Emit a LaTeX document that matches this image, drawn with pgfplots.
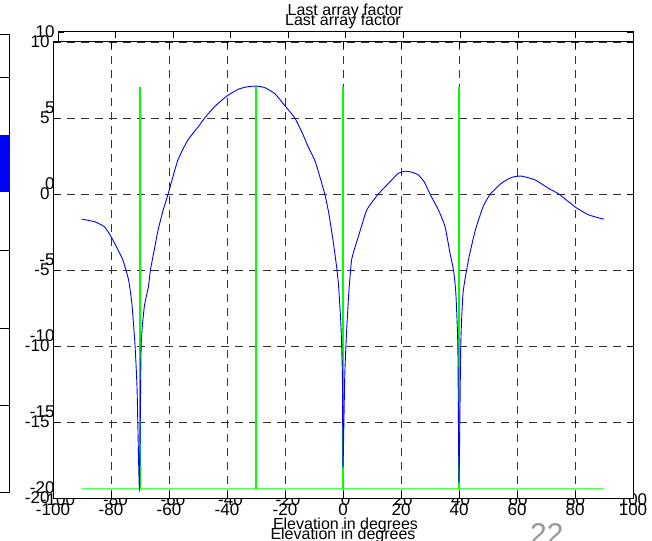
\documentclass[border=0pt]{standalone}
\usepackage{fontspec}
\setmainfont{Liberation Sans}
\usepackage{pgfplots}
\pgfplotsset{compat=1.18}
\definecolor{mblue}{RGB}{0,0,255}
\definecolor{mgreen}{RGB}{0,255,0}
\pgfplotsset{
  mystyle/.style={
    scale only axis,
    xmin=-100, xmax=100, ymin=-20, ymax=10,
    xtick={-100,-80,...,100}, ytick={-20,-15,...,10},
    tick align=inside, major tick length=6bp,
    /pgf/number format/assume math mode=true,
    tick label style={font=\fontsize{17bp}{20bp}\selectfont},
    xticklabel style={yshift=-2bp},
    label style={font=\fontsize{16bp}{19bp}\selectfont},
    title style={font=\fontsize{16bp}{19bp}\selectfont},
    axis line style={line width=1bp},
    every tick/.style={black, line width=0.8bp},
    title={Last array factor},
    xlabel={Elevation in degrees},
    title style={at={(axis description cs:0.5,1)}, anchor=center, yshift=15bp},
    xlabel style={at={(axis description cs:0.5,0)}, anchor=center, yshift=-37bp},
  }
}
\begin{document}
\begin{tikzpicture}
\path[use as bounding box] (-53bp,-43bp) rectangle (599bp,498bp);

% partial neighbouring panel at the left edge
\begin{axis}[at={(-113bp,6bp)}, anchor=south west, scale only axis,
  width=70bp, height=457bp, xmin=0, xmax=70, ymin=0, ymax=457,
  xtick=\empty, ytick=\empty, axis line style={line width=1bp}]
\addplot[fill=mblue, draw=none] coordinates {(0,357) (70,357) (70,300) (0,300)} -- cycle;
\addplot[black, line width=0.8bp] coordinates {(0,415) (70,415)};
\addplot[black, line width=0.8bp] coordinates {(0,242) (70,242)};
\addplot[black, line width=0.8bp] coordinates {(0,164) (70,164)};
\addplot[black, line width=0.8bp] coordinates {(0,87) (70,87)};
\end{axis}

% ghost copy of the axis (offset)
\begin{axis}[mystyle, at={(5bp,10bp)}, anchor=south west, width=575bp, height=456bp]
\addplot[draw=none] coordinates {(0,0)};
\end{axis}

% main axis
\begin{axis}[mystyle, at={(0bp,0bp)}, anchor=south west, width=580bp, height=456bp,
  axis background/.style={fill=white},
  grid=major, grid style={black!80, line width=0.8bp, dash pattern=on 8bp off 6bp}]
\addplot[mgreen, line width=1.1bp] coordinates {
(-90,-19.4) (-70.15,-19.4) (-70.1,7) (-69.9,7) (-69.85,-19.4)
(-30.15,-19.4) (-30.1,7) (-29.9,7) (-29.85,-19.4)
(-0.15,-19.4) (-0.1,7) (0.1,7) (0.15,-19.4)
(39.85,-19.4) (39.9,7) (40.1,7) (40.15,-19.4) (90,-19.4)};
\addplot[mblue, line width=0.9bp, smooth, tension=0.3] coordinates {
(-90,-1.66) (-85.7,-1.82) (-82.3,-2.15) (-80,-2.8) (-76,-4.3) (-74,-5.6)
(-72.8,-7.2) (-71.7,-10) (-71,-12.9) (-70.2,-19.4) (-69.6,-10) (-68.5,-7.4)
(-67.1,-6.1) (-66.4,-5) (-65,-3.6) (-63.8,-2.4) (-62,-1.05) (-60.3,0)
(-57,2.2) (-53.5,3.55) (-50,4.4) (-47.7,5.0) (-44,5.8) (-40,6.45) (-36,6.9)
(-33,7.05) (-30,7.1) (-27,7.0) (-23.5,6.6) (-20,5.8) (-16.6,5.0) (-14,4.0)
(-12,3.1) (-9.5,2.1) (-6.3,0) (-4.9,-1.27) (-3.4,-3.1) (-2.2,-4.8) (-1.5,-6.1)
(-0.7,-8.7) (-0.2,-12) (0,-18) (0.6,-12) (1.2,-9.2) (2,-6.5) (3,-4.3)
(5.3,-2.8) (8.2,-1.05) (12.2,0) (16.8,0.92) (19,1.35) (21.5,1.5) (24,1.42)
(26,1.25) (28,0.8) (30,0) (32.9,-1.05) (35.2,-2.15) (36.9,-3.9) (38.1,-5)
(38.9,-6.5) (39.6,-10) (40,-19) (40.6,-10) (41.4,-6.5) (43.3,-4.3) (45.6,-2.4)
(48.3,-0.84) (50.8,0) (54.8,0.74) (58.3,1.1) (61.5,1.18) (66.3,0.92)
(70.9,0.37) (74.4,0) (80.4,-0.9) (84.8,-1.38) (90,-1.66)};
\end{axis}

\node[anchor=north west, inner sep=0pt, text=black!40,
  font=\fontsize{30bp}{30bp}\selectfont] at (477bp,-25bp) {22};
\end{tikzpicture}
\end{document}
